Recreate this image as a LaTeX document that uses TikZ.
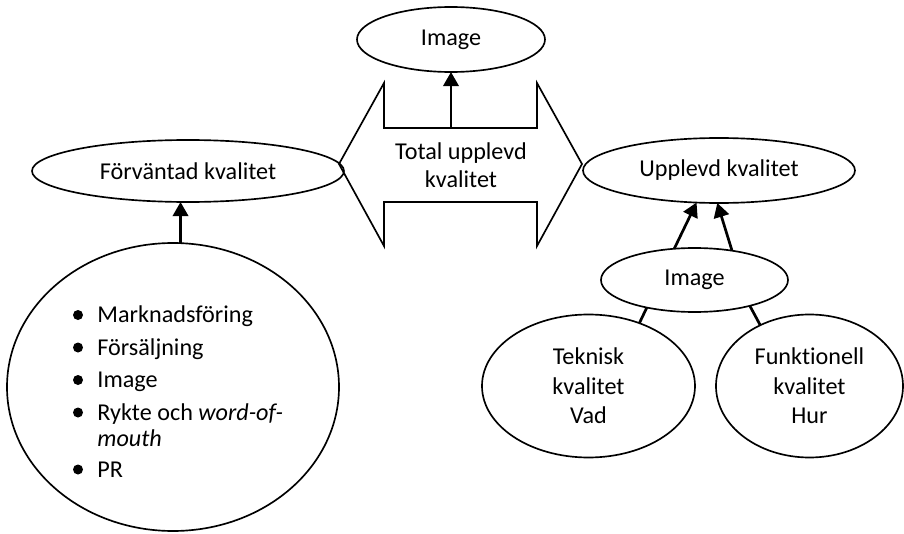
\documentclass[tikz,border=0pt]{standalone}
\usepackage{fontspec}
\setmainfont{Carlito}[Ligatures=NoCommon]
\usetikzlibrary{shapes.geometric,arrows.meta}

\tikzset{
  oval/.style={draw, ellipse, line width=0.8pt, inner sep=0pt, outer sep=0pt,
               align=center, font=\fontsize{11.6pt}{14.2pt}\selectfont},
  arr/.style={line width=1.3pt, -{Triangle[length=6.8pt,width=7.4pt]}},
  link/.style={line width=1.3pt},
  txt/.style={inner sep=0pt, font=\fontsize{11.6pt}{13.6pt}\selectfont},
  item/.style={txt, anchor=base west},
  bullet/.style={fill=black}
}

\begin{document}
\begin{tikzpicture}[x=0.48pt, y=-0.48pt]
  \useasboundingbox (0,0) rectangle (904,534);

  % central double arrow
  \draw[line width=0.8pt] (339,164) -- (384,83) -- (384,128) -- (537,128) -- (537,83)
        -- (582,164) -- (537,246) -- (537,202) -- (384,202) -- (384,246) -- cycle;
  \coordinate (shafttop) at (451,128);
  \node[txt, align=center] (total) at (461,165) {Total upplevd\\kvalitet};

  % ovals
  \node[oval, minimum width=90.24pt, minimum height=31.2pt] (img1) at (451,39.5) {Image};
  \node[oval, minimum width=149.76pt, minimum height=29.76pt] (fk) at (188,171) {Förväntad kvalitet};
  \node[oval, minimum width=130.56pt, minimum height=31.2pt] (up) at (719,170.5) {Upplevd kvalitet};
  \node[oval, minimum width=89.76pt, minimum height=30.72pt] (img2) at (694.5,280) {Image};
  \node[oval, minimum width=102.24pt, minimum height=68.64pt] (tek) at (588.5,386) {Teknisk\\kvalitet\\Vad};
  \node[oval, minimum width=89.76pt, minimum height=68.64pt] (fun) at (809.5,386) {Funktionell\\kvalitet\\Hur};
  \node[oval, minimum width=159.36pt, minimum height=138.24pt] (big) at (173,387) {};

  % bullet list inside the large oval
  \node[item] (l1) at (97,322.5) {Marknadsföring};
  \node[item] (l2) at (97,355) {Försäljning};
  \node[item] (l3) at (97,387.5) {Image};
  \node[item] (l4) at (97,420) {Rykte och \textit{word-of-}};
  \node[item] (l5) at (97,446) {\textit{mouth}};
  \node[item] (l6) at (97,477) {PR};
  \foreach \y in {315,347.5,380,412.5,469.5}
    \fill[bullet] (78,\y) circle[radius=2.4pt];

  % connectors
  \draw[arr] (shafttop) -- (img1.south);
  \draw[arr] (big.87) -- (big.87 |- fk.south);
  \draw[arr] (img2.123) -- (up.235);
  \draw[arr] (img2.38) -- (up.267);
  \draw[link] (img2.210) -- (tek.51);
  \draw[link] (img2.335) -- (fun.129);
\end{tikzpicture}
\end{document}
